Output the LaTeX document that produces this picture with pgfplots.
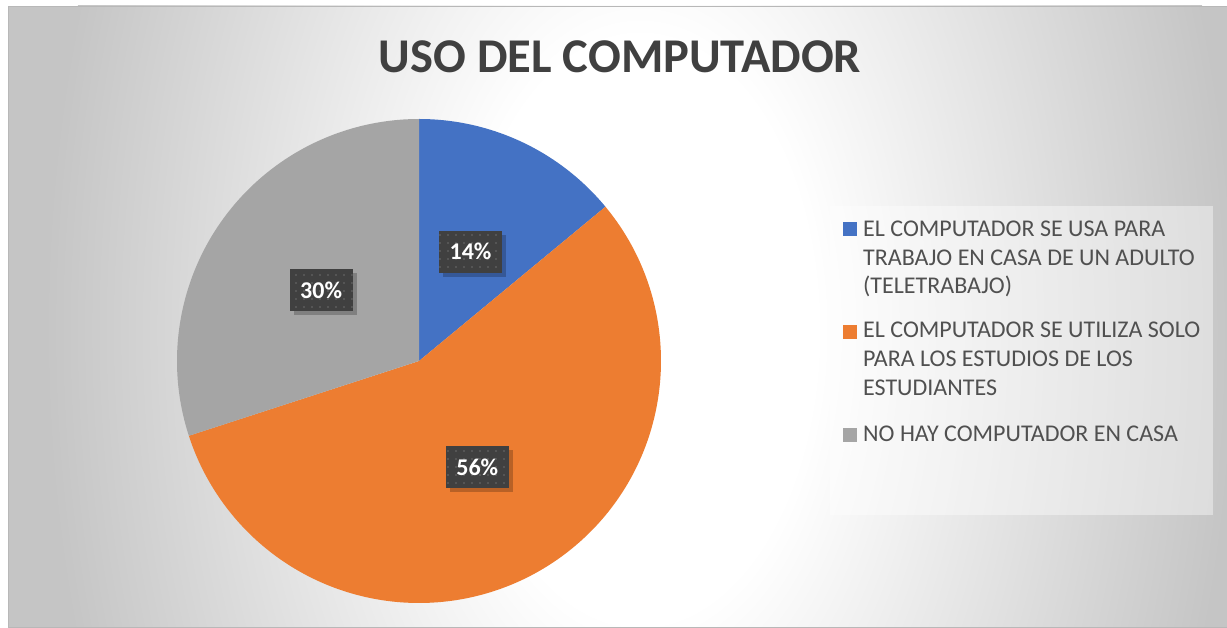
\documentclass[border=0pt]{standalone}
\usepackage{pgfplots}
\pgfplotsset{compat=1.18}
\usepackage{pgfplotstable}
\usepackage{fontspec}
\setmainfont{Carlito}
\usetikzlibrary{patterns.meta}
\definecolor{cblue}{HTML}{4472C4}
\definecolor{corange}{HTML}{ED7D31}
\definecolor{cgray}{HTML}{A5A5A5}
\definecolor{ctitle}{HTML}{404040}
\definecolor{clegend}{HTML}{505050}
\definecolor{cbox}{HTML}{404040}
\definecolor{cbgedge}{HTML}{C5C5C5}
\pgfdeclareradialshading{bgshade}{\pgfpoint{0bp}{0bp}}{color(0bp)=(white); color(7.4bp)=(white); color(25bp)=(cbgedge); color(50bp)=(cbgedge)}

\pgfplotstableread{
share
14
56
30
}\piedata

\newcommand{\datalabel}[2]{%
  \path (axis cs:419,266) ++(#1:121pt) ++(4pt,-4pt) node[fill=black, fill opacity=0.22, minimum width=63pt, minimum height=42pt, inner sep=0pt] {};
  \path (axis cs:419,266) ++(#1:121pt) node[preaction={fill=cbox}, pattern={Dots[distance=8pt, radius=0.9pt]}, pattern color=black!58, minimum width=63pt, minimum height=42pt, inner sep=0pt] {};
  \path (axis cs:419,266) ++(#1:121pt) node[text=white, font=\bfseries\fontsize{24}{28}\selectfont, inner sep=0pt] {#2\%};
}

\begin{document}
\begin{tikzpicture}
\pgfplotstablegetelem{0}{share}\of\piedata \let\vA\pgfplotsretval
\pgfplotstablegetelem{1}{share}\of\piedata \let\vB\pgfplotsretval
\pgfplotstablegetelem{2}{share}\of\piedata \let\vC\pgfplotsretval
\pgfmathsetmacro{\aA}{90}
\pgfmathsetmacro{\aB}{\aA-3.6*\vA}
\pgfmathsetmacro{\aC}{\aB-3.6*\vB}
\pgfmathsetmacro{\aD}{\aC-3.6*\vC}
\pgfmathsetmacro{\mA}{(\aA+\aB)/2}
\pgfmathsetmacro{\mB}{(\aB+\aC)/2}
\pgfmathsetmacro{\mC}{(\aC+\aD)/2}
\path[use as bounding box] (0,0) rectangle (1227pt,627pt);
\begin{axis}[
  at={(0,0)}, anchor=south west,
  width=1227pt, height=627pt, scale only axis,
  xmin=0, xmax=1227, ymin=0, ymax=627,
  hide axis, clip=false,
]
% background
\begin{scope}
\clip (axis cs:8,0) rectangle (axis cs:1227,621);
\fill[cbgedge] (axis cs:8,0) rectangle (axis cs:1227,621);
\shade[shading=bgshade] (axis cs:640,297) ellipse [x radius=595pt, y radius=986pt];
\end{scope}
\draw[black!28, line width=0.8pt] (axis cs:8,0) rectangle (axis cs:1227,621);
% pie
\fill[cblue] (axis cs:419,266) -- +(\aA:242pt) arc[start angle=\aA, end angle=\aB, radius=242pt] -- cycle;
\fill[corange] (axis cs:419,266) -- +(\aB:242pt) arc[start angle=\aB, end angle=\aC, radius=242pt] -- cycle;
\fill[cgray] (axis cs:419,266) -- +(\aC:242pt) arc[start angle=\aC, end angle=\aD, radius=242pt] -- cycle;
% data labels
\datalabel{\mA}{\vA}
\datalabel{\mB}{\vB}
\datalabel{\mC}{\vC}
% title
\node[anchor=base, text=ctitle, font=\bfseries\fontsize{48.5}{58}\selectfont, inner sep=0pt] at (axis cs:620,554) {USO DEL COMPUTADOR};
% legend
\fill[white, fill opacity=0.4] (axis cs:830,421) rectangle (axis cs:1213,112);
\fill[cblue] (axis cs:843,405) rectangle (axis cs:857,391);
\fill[corange] (axis cs:843,302) rectangle (axis cs:857,288);
\fill[cgray] (axis cs:843,199) rectangle (axis cs:857,185);
\begin{scope}[every node/.style={anchor=base west, text=clegend, font=\fontsize{24}{29}\selectfont, inner sep=0pt}]
\node at (axis cs:863,390) {EL COMPUTADOR SE USA PARA};
\node at (axis cs:863,361.5) {TRABAJO EN CASA DE UN ADULTO};
\node at (axis cs:863,333) {(TELETRABAJO)};
\node at (axis cs:863,289) {EL COMPUTADOR SE UTILIZA SOLO};
\node at (axis cs:863,260) {PARA LOS ESTUDIOS DE LOS};
\node at (axis cs:863,231) {ESTUDIANTES};
\node at (axis cs:863,185) {NO HAY COMPUTADOR EN CASA};
\end{scope}
\end{axis}
\end{tikzpicture}
\end{document}
